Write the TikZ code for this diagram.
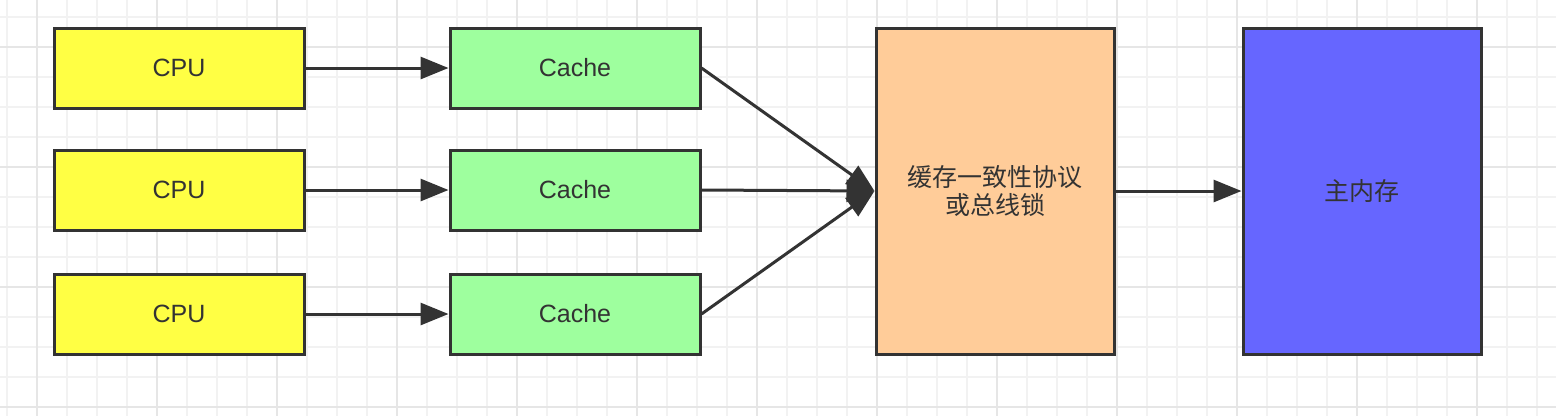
\documentclass[tikz,border=0pt]{standalone}
\usepackage{fontspec}
\setmainfont{Liberation Sans}
\newfontfamily\cjk{Noto Sans CJK SC}
\usepackage{tikz}
\usetikzlibrary{arrows.meta}
\usetikzlibrary{positioning}

\definecolor{cpuyellow}{RGB}{255,255,68}
\definecolor{cachegreen}{RGB}{158,255,158}
\definecolor{syncorange}{RGB}{255,204,153}
\definecolor{memblue}{RGB}{102,102,255}
\definecolor{edgegray}{RGB}{51,51,51}
\definecolor{gridminor}{RGB}{242,242,242}
\definecolor{gridmajor}{RGB}{230,230,230}

\begin{document}
\begin{tikzpicture}[
        x=1pt, y=-1pt,
        box/.style={rectangle, draw=edgegray, line width=3pt, text=edgegray, font=\fontsize{25}{28}\selectfont, minimum width=250pt, minimum height=80pt},
        cpu/.style={box, fill=cpuyellow},
        cache/.style={box, fill=cachegreen},
        tall/.style={box, font=\cjk\fontsize{25}{28}\selectfont, align=center, minimum width=238pt, minimum height=326pt},
        link/.style={-{Triangle[length=28pt, width=22pt]}, line width=3pt, draw=edgegray}
      ]
        \useasboundingbox (0,0) rectangle (1556,416);
        \fill[white] (0,0) rectangle (1556,416);

        % grid
        \foreach \x in {7,37,...,1556} \draw[gridminor, line width=2pt] (\x,0) -- (\x,416);
        \foreach \y in {17,47,...,416} \draw[gridminor, line width=2pt] (0,\y) -- (1556,\y);
        \foreach \x in {37,157,...,1556} \draw[gridmajor, line width=2pt] (\x,0) -- (\x,416);
        \foreach \y in {47,167,...,416} \draw[gridmajor, line width=2pt] (0,\y) -- (1556,\y);

        \node[cpu]    (cpu1)   at (179, 68)    {CPU};
        \node[cpu]    (cpu2)   at (179, 190)   {CPU};
        \node[cpu]    (cpu3)   at (179, 314)   {CPU};
        \node[cache]  (cache1) at (575, 68)    {Cache};
        \node[cache]  (cache2) at (575, 190)   {Cache};
        \node[cache]  (cache3) at (575, 314)   {Cache};
        \node[tall, fill=syncorange]  (sync)  at (995, 191)   {缓存一致性协议\\或总线锁};
        \node[tall, fill=memblue]     (mem)   at (1362, 191)  {主内存};

        \draw[link]  (cpu1.east) -- (cache1.west);
        \draw[link]  (cpu2.east) -- (cache2.west);
        \draw[link]  (cpu3.east) -- (cache3.west);
        \draw[link]  (cache1.east) -- (sync.west);
        \draw[link]  (cache2.east) -- (sync.west);
        \draw[link]  (cache3.east) -- (sync.west);
        \draw[link]  (sync.east) -- (mem.west);
      \end{tikzpicture}
\end{document}
